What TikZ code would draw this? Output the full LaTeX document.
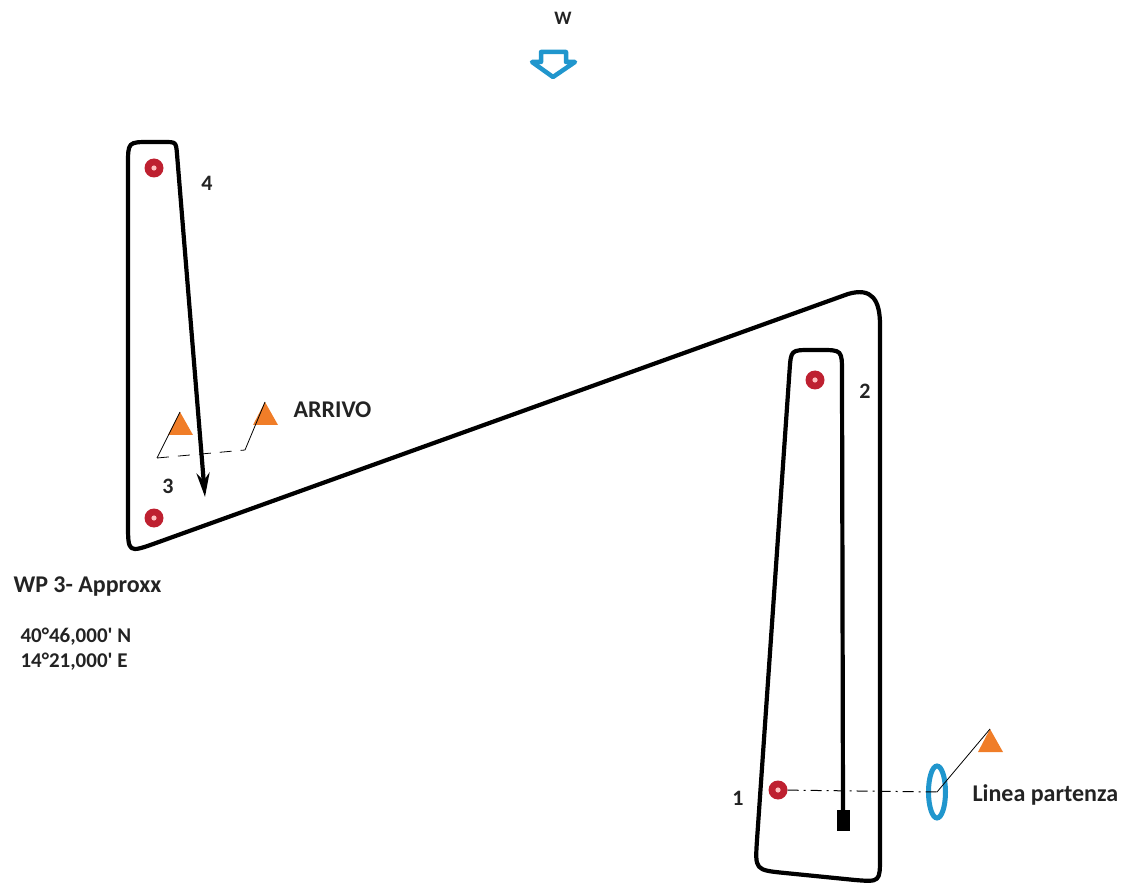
\documentclass[tikz,border=0pt]{standalone}
\usepackage{fontspec}
\setmainfont{Carlito}
\usetikzlibrary{arrows.meta,shapes.geometric}
\definecolor{buoyRed}{RGB}{190,32,48}
\definecolor{flagOrange}{RGB}{240,125,40}
\definecolor{windBlue}{RGB}{32,150,205}
\definecolor{textGrey}{RGB}{35,35,35}
\tikzset{
  buoy/.style={
    circle, fill=buoyRed, minimum size=19pt, inner sep=0pt,
    path picture={\fill[red!25] (path picture bounding box.center) circle (2.6pt);}},
  numlabel/.style={font=\fontsize{22}{24}\selectfont\bfseries, text=textGrey},
  coursetext/.style={font=\fontsize{24}{28}\selectfont\bfseries, text=textGrey, anchor=west},
  courseline/.style={line width=4.2pt, line join=round},
  flagpole/.style={line width=0.8pt},
  pinbuoy/.style={ellipse, draw=windBlue, line width=5pt, minimum width=17pt,
    minimum height=52pt, inner sep=0pt}
}
\newcommand\flagat[1]{\fill[flagOrange] (#1) -- ++(-12,23) -- ++(25,0) -- cycle;}

\begin{document}
\begin{tikzpicture}[x=1pt,y=-1pt]
  \useasboundingbox (0,0) rectangle (1128,885);

  % wind
  \node[font=\fontsize{19}{22}\selectfont\bfseries, text=textGrey] (wind) at (563,18) {W};
  \draw[windBlue, line width=4.5pt, line join=round, fill=white]
    (541,52) -- (566,52) -- (566,62) -- (575,62) -- (553,77) -- (532,62) -- (541,62) -- cycle;

  % course
  \fill (837,810) rectangle (850,831);
  \draw[courseline, -{Stealth[length=24pt, width=13pt]}]
    (843,812) -- (842,373) .. controls (842,350) .. (820,350)
    -- (811,350) .. controls (791,350) .. (789.6,370)
    -- (757,840) .. controls (755,870) .. (785,873)
    -- (855,880) .. controls (880,882) .. (880,857)
    -- (880,325) .. controls (880,300) and (872,287) .. (848,294)
    -- (156,543) .. controls (128,553) .. (128,523)
    -- (128,165) .. controls (128,142) .. (150,142)
    -- (164,142) .. controls (176,142) .. (177,154)
    -- (205,497);

  % buoys
  \node[buoy] (b4) at (154,168) {};
  \node[buoy] (b3) at (154,518) {};
  \node[buoy] (b2) at (815,380) {};
  \node[buoy] (b1) at (778,790) {};
  \node[numlabel] at (207,183) {4};
  \node[numlabel] at (168,486) {3};
  \node[numlabel] at (865,391) {2};
  \node[numlabel] at (738,798) {1};

  % finish
  \coordinate (arrL) at (157,458);
  \coordinate (arrR) at (245,450);
  \flagat{180,412}
  \flagat{265,402}
  \draw[flagpole] (180,412) -- (arrL);
  \draw[flagpole] (265,402) -- (arrR);
  \draw[flagpole, dash pattern=on 12pt off 9pt] (arrL) -- (arrR);
  \node[coursetext] (arrivo) at (290,410) {ARRIVO};

  % start
  \node[pinbuoy] (pin) at (937,792) {};
  \coordinate (pinflag) at (990,729);
  \flagat{990,729}
  \draw[flagpole] (pin.center) -- (pinflag);
  \draw[flagpole, line width=1pt, dash pattern=on 11pt off 5pt on 2pt off 5pt] (b1) -- (pin.center);
  \node[coursetext] (start) at (969,795) {Linea partenza};

  % waypoint
  \node[coursetext] (wp) at (10,587) {WP 3- Approxx};
  \node[coursetext, align=left, font=\fontsize{21}{25}\selectfont\bfseries]
    (coord) at (17,649) {40°46,000\textquotesingle{} N\\14°21,000\textquotesingle{} E};
\end{tikzpicture}
\end{document}
